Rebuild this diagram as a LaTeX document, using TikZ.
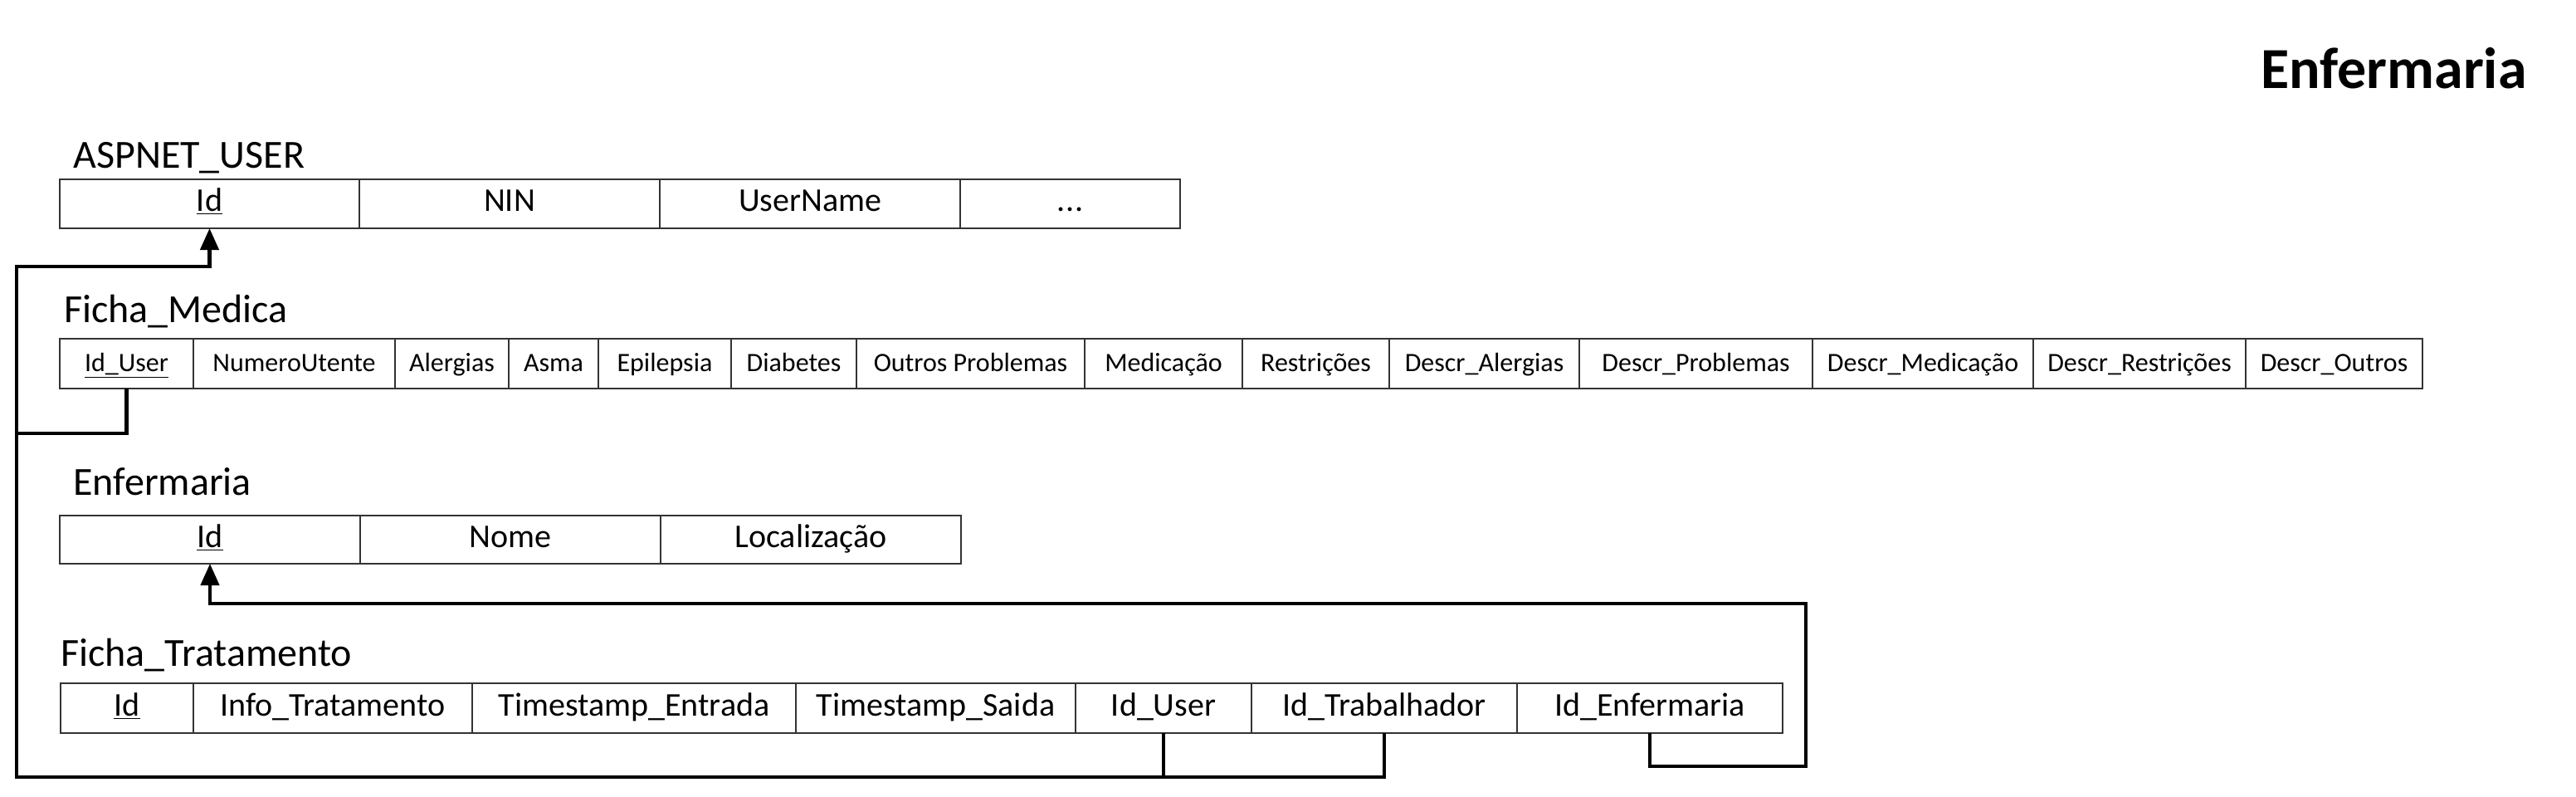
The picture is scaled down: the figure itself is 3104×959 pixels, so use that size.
\documentclass[tikz,border=0pt]{standalone}
\usepackage{fontspec}
\setmainfont{Carlito}
\usetikzlibrary{arrows.meta}
\newcommand\mkcell[7]{%
  \node[cell, font=#6, minimum width={(#3-#2)*0.5pt}, minimum height={(#5-#4)*0.5pt}] (#1) at (#2,#4) {#7};}
\begin{document}
\begin{tikzpicture}[x=0.5pt,y=-0.5pt,
  cell/.style={draw=black!80, line width=1pt, inner sep=0pt, outer sep=0pt, anchor=north west, text=black,
    text height=1.0em, text depth=0.07em},
  conn/.style={line width=2.2pt, black, line join=miter},
  tip/.style={-{Triangle[width=11pt,length=13pt]}},
  lbl/.style={anchor=base west, font=\fontsize{24}{28}\selectfont, inner sep=0pt}]
\useasboundingbox (0,0) rectangle (3104,959);
\def\fa{\fontsize{20}{24}\selectfont}
\def\fb{\fontsize{16}{19}\selectfont}
% title
\node[anchor=base east, inner sep=0pt, font=\fontsize{35}{40}\selectfont\bfseries] (title) at (3045,106) {Enfermaria};
% labels
\node[lbl] (lau) at (88,202) {ASPNET\_USER};
\node[lbl] (lfm) at (77,388) {Ficha\_Medica};
\node[lbl] (len) at (88,596) {Enfermaria};
\node[lbl] (lft) at (73,802) {Ficha\_Tratamento};
% ASPNET_USER
\mkcell{au1}{72}{433}{216}{275}{\fa}{\underline{Id}}
\mkcell{au2}{433}{795}{216}{275}{\fa}{NIN}
\mkcell{au3}{795}{1157}{216}{275}{\fa}{UserName}
\mkcell{au4}{1157}{1422}{216}{275}{\fa}{.\kern0.5pt.\kern0.5pt.}
% Ficha_Medica
\mkcell{fm1}{72}{233}{408}{468}{\fb}{\underline{Id\_User}}
\mkcell{fm2}{233}{476}{408}{468}{\fb}{NumeroUtente}
\mkcell{fm3}{476}{613}{408}{468}{\fb}{Alergias}
\mkcell{fm4}{613}{721}{408}{468}{\fb}{Asma}
\mkcell{fm5}{721}{881}{408}{468}{\fb}{Epilepsia}
\mkcell{fm6}{881}{1032}{408}{468}{\fb}{Diabetes}
\mkcell{fm7}{1032}{1307}{408}{468}{\fb}{Outros Problemas}
\mkcell{fm8}{1307}{1497}{408}{468}{\fb}{Medicação}
\mkcell{fm9}{1497}{1674}{408}{468}{\fb}{Restrições}
\mkcell{fm10}{1674}{1903}{408}{468}{\fb}{Descr\_Alergias}
\mkcell{fm11}{1903}{2184}{408}{468}{\fb}{Descr\_Problemas}
\mkcell{fm12}{2184}{2450}{408}{468}{\fb}{Descr\_Medicação}
\mkcell{fm13}{2450}{2706}{408}{468}{\fb}{Descr\_Restrições}
\mkcell{fm14}{2706}{2919}{408}{468}{\fb}{Descr\_Outros}
% Enfermaria
\mkcell{en1}{72}{434}{621}{679}{\fa}{\underline{Id}}
\mkcell{en2}{434}{796}{621}{679}{\fa}{Nome}
\mkcell{en3}{796}{1158}{621}{679}{\fa}{Localização}
% Ficha_Tratamento
\mkcell{ft1}{73}{233}{823}{883}{\fa}{\underline{Id}}
\mkcell{ft2}{233}{569}{823}{883}{\fa}{Info\_Tratamento}
\mkcell{ft3}{569}{959}{823}{883}{\fa}{Timestamp\_Entrada}
\mkcell{ft4}{959}{1296}{823}{883}{\fa}{Timestamp\_Saida}
\mkcell{ft5}{1296}{1508}{823}{883}{\fa}{Id\_User}
\mkcell{ft6}{1508}{1828}{823}{883}{\fa}{Id\_Trabalhador}
\mkcell{ft7}{1828}{2148}{823}{883}{\fa}{Id\_Enfermaria}
% connector bends
\coordinate (bendA) at (20,522);
\coordinate (bendB) at (20,321);
\coordinate (bendC) at (20,936);
\coordinate (bendD) at (2176,923);
\coordinate (bendE) at (2176,727);
% connectors
\draw[conn,tip] (fm1.south) |- (bendA) -- (bendB) -| (au1.south);
\draw[conn] (ft5.south) |- (bendC) -- (bendA);
\draw[conn] (ft6.south) |- (ft5.south |- bendC);
\draw[conn,tip] (ft7.south) |- (bendD) -- (bendE) -| (en1.south);
\end{tikzpicture}
\end{document}
